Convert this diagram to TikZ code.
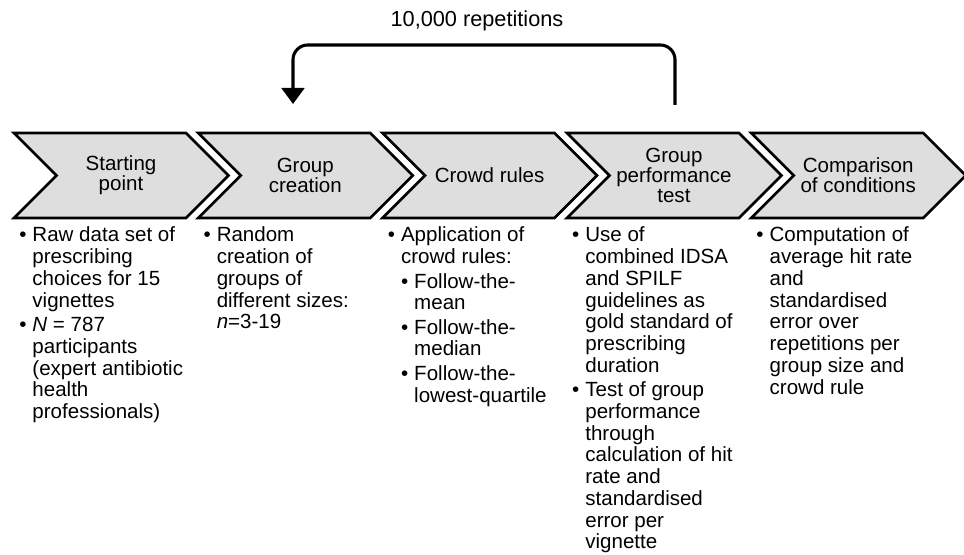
\documentclass[tikz,border=0pt]{standalone}
\usepackage{fontspec}
\setmainfont{Liberation Sans}
\usetikzlibrary{arrows.meta}
\definecolor{stepgray}{HTML}{DEDEDE}
\newcommand{\subdot}{\textbullet\hspace{4.5pt}}
\newcommand{\subgap}{\phantom{\textbullet}\hspace{4.5pt}}

\begin{document}
\begin{tikzpicture}[x=0.75pt, y=-0.75pt,
  stepshape/.style={draw=black, line width=2pt, fill=stepgray, line join=miter},
  steplabel/.style={align=center, inner sep=0pt, font=\fontsize{15.4}{15}\selectfont},
  steplist/.style={anchor=base west, inner sep=0pt, font=\fontsize{15.4}{16.3}\selectfont},
  loop/.style={line width=2.3pt, rounded corners=11pt, -{Triangle[width=17pt, length=12pt]}}]
\useasboundingbox (0,0) rectangle (964,555);

% Étapes (chevrons)
\foreach \k/\nm/\txt in {0/start/{Starting\\point}, 1/creation/{Group\\creation},
    2/rules/{Crowd rules}, 3/perf/{Group\\performance\\test}, 4/compare/{Comparison\\of conditions}}{
  \pgfmathsetmacro{\L}{14+184.3*\k}
  \draw[stepshape] (\L,133) -- ++(172,0) -- ++(42.5,42.5) -- ++(-42.5,42.5)
    -- ++(-172,0) -- ++(42.5,-42.5) -- cycle;
  \node[steplabel] (\nm) at (\L+107,175.5) {\txt};
}

% Boucle de répétition
\node[font=\fontsize{16.3}{18}\selectfont] (reps) at (477,21) {10,000 repetitions};
\coordinate (loopstart) at (675,105);
\coordinate (loopend) at (293,104);
\draw[loop] (loopstart) -- (675,45) -| (loopend);

% Listes sous les étapes
\node[steplist] (startlist) at (19,242) {\begin{tabular}[t]{@{}l@{\hspace{4.5pt}}l@{}}
  \textbullet & Raw data set of\\ & prescribing\\ & choices for 15\\ & vignettes\\[2pt]
  \textbullet & \textit{N} = 787\\ & participants\\ & (expert antibiotic\\ & health\\ & professionals)
\end{tabular}};

\node[steplist] (creationlist) at (203.3,242) {\begin{tabular}[t]{@{}l@{\hspace{4.5pt}}l@{}}
  \textbullet & Random\\ & creation of\\ & groups of\\ & different sizes:\\ & \textit{n}=3-19
\end{tabular}};

\node[steplist] (ruleslist) at (387.6,242) {\begin{tabular}[t]{@{}l@{\hspace{4.5pt}}l@{}}
  \textbullet & Application of\\ & crowd rules:\\[2pt]
  & \subdot Follow-the-\\ & \subgap mean\\[2pt]
  & \subdot Follow-the-\\ & \subgap median\\[2pt]
  & \subdot Follow-the-\\ & \subgap lowest-quartile
\end{tabular}};

\node[steplist] (perflist) at (571.9,242) {\begin{tabular}[t]{@{}l@{\hspace{4.5pt}}l@{}}
  \textbullet & Use of\\ & combined IDSA\\ & and SPILF\\ & guidelines as\\ & gold standard of\\ & prescribing\\ & duration\\[2pt]
  \textbullet & Test of group\\ & performance\\ & through\\ & calculation of hit\\ & rate and\\ & standardised\\ & error per\\ & vignette
\end{tabular}};

\node[steplist] (comparelist) at (756.2,242) {\begin{tabular}[t]{@{}l@{\hspace{4.5pt}}l@{}}
  \textbullet & Computation of\\ & average hit rate\\ & and\\ & standardised\\ & error over\\ & repetitions per\\ & group size and\\ & crowd rule
\end{tabular}};
\end{tikzpicture}
\end{document}
